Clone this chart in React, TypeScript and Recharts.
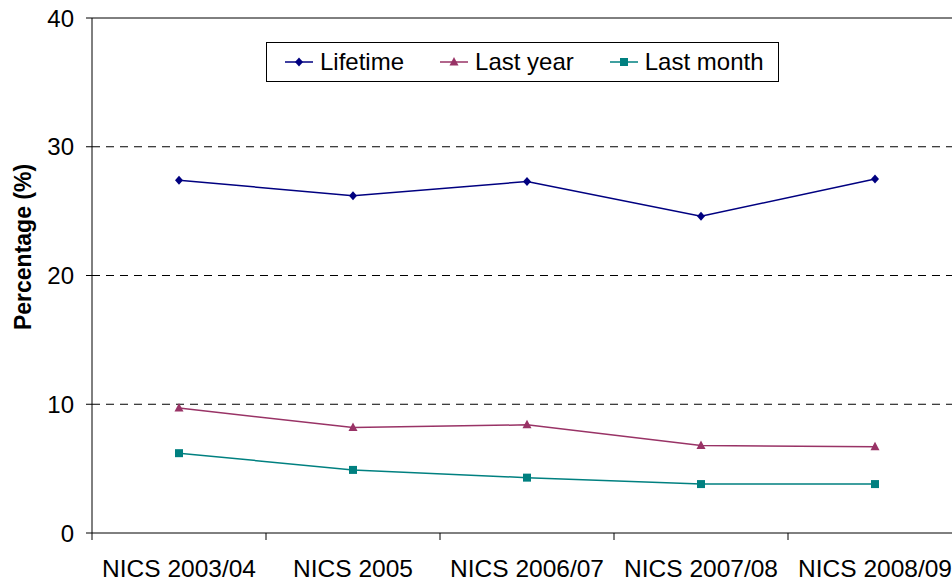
import React from "react";
import { LineChart, Line, XAxis, YAxis, ReferenceLine, Legend } from "recharts";

const categories = ["NICS 2003/04", "NICS 2005", "NICS 2006/07", "NICS 2007/08", "NICS 2008/09"];
const lifetime = [27.4, 26.2, 27.3, 24.6, 27.5];
const lastYear = [9.7, 8.2, 8.4, 6.8, 6.7];
const lastMonth = [6.2, 4.9, 4.3, 3.8, 3.8];
const yTicks = [0, 10, 20, 30, 40];
const dashedGrid = [10, 20, 30];

const series = [
  { key: "lifetime", name: "Lifetime", color: "#000080", shape: "diamond" },
  { key: "lastYear", name: "Last year", color: "#993366", shape: "triangle" },
  { key: "lastMonth", name: "Last month", color: "#008080", shape: "square" },
];

const data = categories.map((name, i) => ({
  name,
  lifetime: lifetime[i],
  lastYear: lastYear[i],
  lastMonth: lastMonth[i],
}));

const FONT = "'Liberation Sans', Arial, sans-serif";
const CHART_W = 970;
const CHART_H = 581;
const MARGIN = { top: 18, right: 8, bottom: 0, left: 0 };
const Y_AXIS_W = 92;
const X_AXIS_H = 48;
const plotW = CHART_W - MARGIN.left - MARGIN.right - Y_AXIS_W;
const halfBand = plotW / categories.length / 2;

function Marker({ shape, cx, cy, color }: { shape: string; cx: number; cy: number; color: string }) {
  if (cx == null || cy == null) return null;
  if (shape === "diamond") {
    return (
      <polygon
        points={`${cx},${cy - 4.5} ${cx + 4},${cy} ${cx},${cy + 4.5} ${cx - 4},${cy}`}
        fill={color}
      />
    );
  }
  if (shape === "triangle") {
    return <polygon points={`${cx},${cy - 5} ${cx + 4.5},${cy + 3.5} ${cx - 4.5},${cy + 3.5}`} fill={color} />;
  }
  return <rect x={cx - 4} y={cy - 4} width={8} height={8} fill={color} />;
}

function XTick(props: any) {
  const { x, y, payload } = props;
  return (
    <g>
      <line x1={x - halfBand} x2={x - halfBand} y1={y} y2={y + 7} stroke="#000" />
      <text x={x} y={y + 44} textAnchor="middle" fill="#000" fontSize={24.5} fontFamily={FONT}>
        {payload.value}
      </text>
    </g>
  );
}

function LegendBox() {
  return (
    <div
      style={{
        boxSizing: "border-box",
        width: 513,
        height: 40,
        border: "1px solid #000",
        background: "#fff",
        display: "flex",
        alignItems: "center",
        paddingLeft: 18,
        fontFamily: FONT,
        fontSize: 24,
        color: "#000",
        whiteSpace: "nowrap",
      }}
    >
      {series.map((s) => (
        <div key={s.key} style={{ display: "flex", alignItems: "center", marginRight: 36, flexShrink: 0 }}>
          <svg width={28} height={12} style={{ marginRight: 7 }}>
            <line x1={0} x2={28} y1={6} y2={6} stroke={s.color} strokeWidth={1.5} />
            <Marker shape={s.shape} cx={14} cy={6} color={s.color} />
          </svg>
          <span>{s.name}</span>
        </div>
      ))}
    </div>
  );
}

export default function App() {
  return (
    <div
      style={{
        position: "fixed",
        left: 0,
        top: 0,
        width: 952,
        height: 581,
        overflow: "hidden",
        background: "#fff",
      }}
    >
      <LineChart width={CHART_W} height={CHART_H} data={data} margin={MARGIN}>
        {dashedGrid.map((v) => (
          <ReferenceLine key={v} y={v} stroke="#000" strokeDasharray="8 6" />
        ))}
        <ReferenceLine y={40} stroke="#000" />
        <XAxis
          dataKey="name"
          scale="band"
          height={X_AXIS_H}
          axisLine={{ stroke: "#000" }}
          tickLine={false}
          tickSize={0}
          tickMargin={0}
          interval={0}
          tick={<XTick />}
        />
        <YAxis
          width={Y_AXIS_W}
          domain={[0, 40]}
          ticks={yTicks}
          interval={0}
          axisLine={{ stroke: "#000" }}
          tickLine={{ stroke: "#000" }}
          tickSize={6}
          tickMargin={12}
          tick={{ fill: "#000", fontSize: 24, fontFamily: FONT }}
          label={{
            content: () => (
              <text
                x={23}
                y={247}
                transform="rotate(-90 23 247)"
                textAnchor="middle"
                dominantBaseline="central"
                fontSize={23}
                fontWeight="bold"
                fontFamily={FONT}
                fill="#000"
              >
                Percentage (%)
              </text>
            ),
          }}
        />
        <Legend
          layout="horizontal"
          align="center"
          verticalAlign="middle"
          content={() => <LegendBox />}
          wrapperStyle={{ left: 266, top: 42, width: 513, height: 40 }}
        />
        {series.map((s) => (
          <Line
            key={s.key}
            dataKey={s.key}
            name={s.name}
            stroke={s.color}
            strokeWidth={1.5}
            isAnimationActive={false}
            dot={(p: any) => <Marker key={`${s.key}-${p.index}`} shape={s.shape} cx={p.cx} cy={p.cy} color={s.color} />}
            activeDot={false}
          />
        ))}
      </LineChart>
    </div>
  );
}
